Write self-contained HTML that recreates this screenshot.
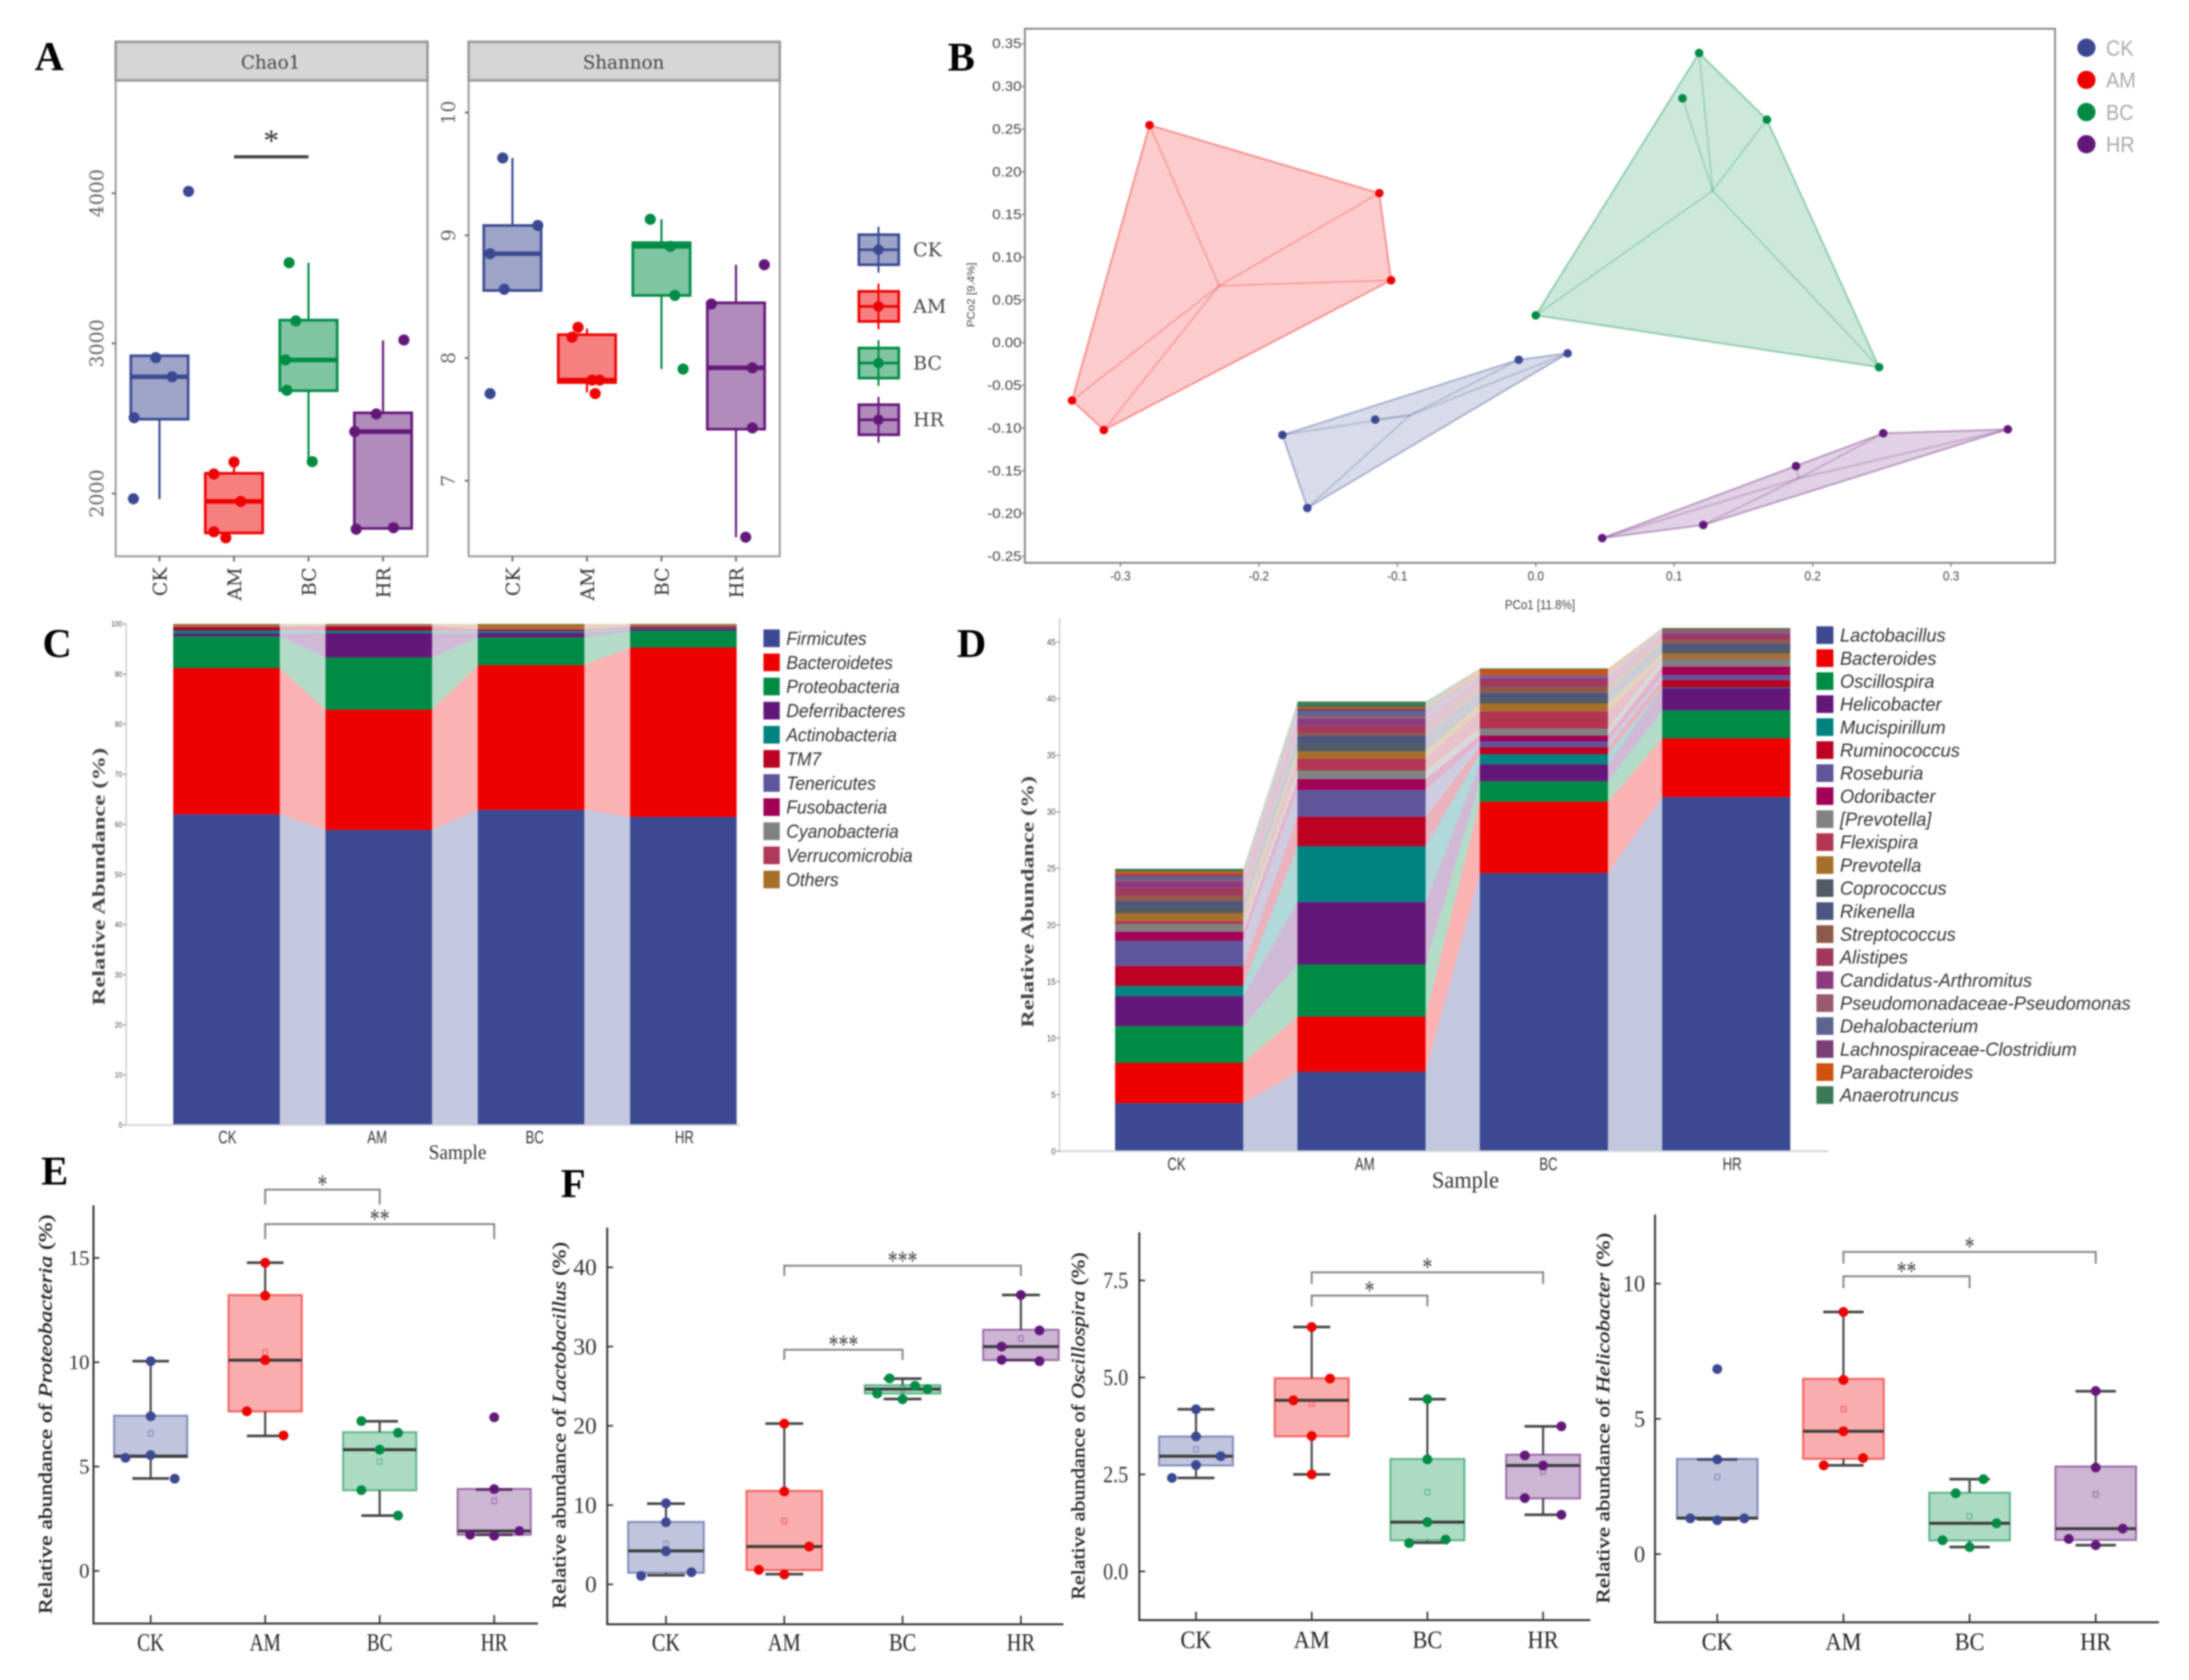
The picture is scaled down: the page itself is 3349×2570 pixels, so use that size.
<!DOCTYPE html>
<html lang="en">
<head>
<meta charset="utf-8">
<title>Gut microbiota composition figure</title>
<style>
html,body{margin:0;padding:0;background:#fff;width:3349px;height:2570px;overflow:hidden}
svg{display:block;filter:blur(1.1px)}
text{font-family:"Liberation Sans",sans-serif}
.letter{font-family:"Liberation Serif",serif;font-weight:bold;font-size:62px;fill:#000}
.ser{font-family:"Liberation Serif",serif}
.strip{font-family:"DejaVu Serif",serif;font-size:28px;fill:#444}
</style>
</head>
<body>
<svg id="figure" xmlns="http://www.w3.org/2000/svg" width="3349" height="2570" viewBox="0 0 3349 2570">
  <rect width="3349" height="2570" fill="#fff"/>

  <text class="letter" x="53" y="107">A</text>
  <text class="letter" x="1450" y="108">B</text>
  <text class="letter" x="65" y="1005">C</text>
  <text class="letter" x="1464" y="1005">D</text>
  <text class="letter" x="63" y="1812">E</text>
  <text class="letter" x="858" y="1831">F</text>

  <g>
    <rect x="177" y="64" width="477" height="59" fill="#d6d6d6" stroke="#9a9a9a" stroke-width="4"/>
    <text class="strip" x="414" y="105" text-anchor="middle">Chao1</text>
  </g>
  <g>
    <rect x="717" y="64" width="476" height="59" fill="#d6d6d6" stroke="#9a9a9a" stroke-width="4"/>
    <text class="strip" x="954" y="105" text-anchor="middle">Shannon</text>
  </g>
  <rect x="177" y="123" width="477" height="728" fill="none" stroke="#9a9a9a" stroke-width="3"/>
  <rect x="717" y="123" width="476" height="728" fill="none" stroke="#9a9a9a" stroke-width="3"/>
  <g id="chao1-chart"></g>
  <g id="shannon-chart"></g>
  <g id="alpha-legend"></g>

  <rect x="1568" y="44" width="1576" height="817" fill="none" stroke="#8a8a8a" stroke-width="3"/>
  <g id="pcoa-chart"></g>
  <text transform="translate(2356,932) scale(.88,1)" text-anchor="middle" font-size="20" fill="#444">PCo1 [11.8%]</text>
  <text transform="translate(1491,451) rotate(-90) scale(1.04,1)" text-anchor="middle" font-size="17" fill="#444">PCo2 [9.4%]</text>
  <g id="pcoa-legend"></g>

  <g id="phylum-chart"></g>
  <g id="phylum-legend"></g>
  <text class="ser" transform="translate(160,1538) rotate(-90)" font-size="27" font-weight="bold" fill="#444" textLength="394" lengthAdjust="spacingAndGlyphs">Relative Abundance (%)</text>
  <text class="ser" transform="translate(700,1773) scale(.92,1)" text-anchor="middle" font-size="32" fill="#333">Sample</text>

  <g id="genus-chart"></g>
  <g id="genus-legend"></g>
  <text class="ser" transform="translate(1581,1572) rotate(-90)" font-size="27" font-weight="bold" fill="#444" textLength="385" lengthAdjust="spacingAndGlyphs">Relative Abundance (%)</text>
  <text class="ser" transform="translate(2242,1817) scale(.95,1)" text-anchor="middle" font-size="36" fill="#333">Sample</text>

  <g id="proteo-chart"></g>
  <text class="ser" transform="translate(79,2469) rotate(-90)" font-size="29" fill="#222" stroke="#222" stroke-width=".5" textLength="611" lengthAdjust="spacingAndGlyphs">Relative abundance of <tspan font-style="italic">Proteobacteria</tspan> (%)</text>
  <g id="lacto-chart"></g>
  <text class="ser" transform="translate(865,2461) rotate(-90)" font-size="29" fill="#222" stroke="#222" stroke-width=".5" textLength="561" lengthAdjust="spacingAndGlyphs">Relative abundance of <tspan font-style="italic">Lactobacillus</tspan> (%)</text>
  <g id="oscillo-chart"></g>
  <text class="ser" transform="translate(1659,2447) rotate(-90)" font-size="29" fill="#222" stroke="#222" stroke-width=".5" textLength="531" lengthAdjust="spacingAndGlyphs">Relative abundance of <tspan font-style="italic">Oscillospira</tspan> (%)</text>
  <g id="helico-chart"></g>
  <text class="ser" transform="translate(2462,2453) rotate(-90)" font-size="29" fill="#222" stroke="#222" stroke-width=".5" textLength="567" lengthAdjust="spacingAndGlyphs">Relative abundance of <tspan font-style="italic">Helicobacter</tspan> (%)</text>
</svg>

<script>
// ---------- shared categories ----------
const groups = ['CK','AM','BC','HR'];

// ---------- panel A: Chao1 ----------
const chao1Ticks = [2000,3000,4000];
const chao1Q1 = [2495,1737.5,2685,1767.5];
const chao1Q3 = [2917.5,2135,3155,2537.5];
const chao1Median = [2777.5,1947.5,2890,2412.5];
const chao1WhiskerLow = [1962.5,1737.5,2212.5,1767.5];
const chao1WhiskerHigh = [2917.5,2210,3537.5,3020];
const chao1Points = [[2905,2777.5,2505,1965,4012.5],[2210,2130,1947.5,1745,1705],[3537.5,3150,2890,2687.5,2212.5],[3022.5,2530,2412.5,1762.5,1772.5]];
const chao1Jitter = [[-.05,.17,-.34,-.35,.39],[0,-.27,.09,-.27,-.11],[-.26,-.17,-.31,-.29,.05],[.28,-.09,-.38,-.36,.14]];
const chao1Brackets = [{from:1,to:2,top:4242.5,leg:4242.5,stars:'*'}];

// ---------- panel A: Shannon ----------
const shannonTicks = [7,8,9,10];
const shannonQ1 = [8.55,7.80,8.51,7.42];
const shannonQ3 = [9.08,8.19,8.94,8.45];
const shannonMedian = [8.85,7.82,8.91,7.92];
const shannonWhiskerLow = [8.55,7.72,7.91,6.54];
const shannonWhiskerHigh = [9.63,8.24,9.13,8.76];
const shannonPoints = [[9.63,9.08,8.85,8.56,7.71],[8.25,8.17,7.82,7.82,7.71],[9.13,8.91,8.51,7.91],[8.76,8.44,7.92,7.43,6.54]];
const shannonJitter = [[-.13,.34,-.3,-.11,-.3],[-.12,-.2,.17,.07,.11],[-.15,.12,.18,.29],[.38,-.33,.22,.22,.13]];

// ---------- panel B: PCoA ----------
const pcoaXTicks = [-0.3,-0.2,-0.1,0,0.1,0.2,0.3];
const pcoaYTicks = [-0.25,-0.20,-0.15,-0.10,-0.05,0,0.05,0.10,0.15,0.20,0.25,0.30,0.35];
const pcoaCK = [[.023,-.0125],[-.0123,-.02],[-.116,-.09],[-.183,-.108],[-.165,-.1935]];
const pcoaAM = [[-.279,.2546],[-.113,.175],[-.1045,.073],[-.335,-.0676],[-.312,-.1023]];
const pcoaBC = [[.118,.339],[.106,.286],[.167,.261],[0,.032],[.248,-.0287]];
const pcoaHR = [[.341,-.1014],[.251,-.106],[.188,-.1444],[.121,-.2134],[.048,-.2287]];

// ---------- panel C: phyla ----------
const phylumNames = ['Firmicutes','Bacteroidetes','Proteobacteria','Deferribacteres','Actinobacteria','TM7','Tenericutes','Fusobacteria','Cyanobacteria','Verrucomicrobia','Others'];
const phylumTicks = [0,10,20,30,40,50,60,70,80,90,100];
const phylumCK = [62.0,29.2,6.3,0.6,0.6,0.7,0.05,0.05,0.05,0.05,0.4];
const phylumAM = [58.9,24.0,10.4,4.9,0.5,0.8,0.05,0.05,0.05,0.05,0.3];
const phylumBC = [62.9,28.9,5.5,0.9,0.4,0.3,0.05,0.05,0.05,0.05,0.9];
const phylumHR = [61.5,33.8,3.3,0.3,0.2,0.3,0.1,0.05,0.05,0.05,0.35];

// ---------- panel D: genera ----------
const genusNames = ['Lactobacillus','Bacteroides','Oscillospira','Helicobacter','Mucispirillum','Ruminococcus','Roseburia','Odoribacter','[Prevotella]','Flexispira','Prevotella','Coprococcus','Rikenella','Streptococcus','Alistipes','Candidatus-Arthromitus','Pseudomonadaceae-Pseudomonas','Dehalobacterium','Lachnospiraceae-Clostridium','Parabacteroides','Anaerotruncus'];
const genusTicks = [0,5,10,15,20,25,30,35,40,45];
const genusCK = [4.24,3.56,3.25,2.65,0.90,1.76,2.24,0.80,0.68,0.27,0.68,0.56,0.48,0.50,0.70,0.57,0.14,0.27,0.20,0.27,0.24];
const genusAM = [7.02,4.88,4.60,5.53,4.92,2.61,2.37,0.95,0.78,1.05,0.61,0.71,0.68,0.24,0.68,0.61,0.20,0.45,0.20,0.15,0.50];
const genusBC = [24.58,6.32,1.79,1.51,0.88,0.64,0.51,0.51,0.61,1.53,0.70,0.44,0.47,0.54,0.54,0.24,0.17,0.10,0.05,0.45,0.09];
const genusHR = [31.3,5.19,2.47,1.97,0.07,0.64,0.44,0.75,0.68,0.05,0.43,0.47,0.40,0.30,0.40,0.20,0.14,0.10,0.07,0.07,0.10];

// ---------- panel E: Proteobacteria ----------
const proteoTicks = [0,5,10,15];
const proteoQ1 = [5.45,7.64,3.86,1.73];
const proteoQ3 = [7.44,13.22,6.65,3.93];
const proteoMedian = [5.50,10.10,5.81,1.91];
const proteoMean = [6.59,10.47,5.23,3.35];
const proteoWhiskerLow = [4.43,6.47,2.65,1.73];
const proteoWhiskerHigh = [10.05,14.77,7.17,3.90];
const proteoPoints = [[10.05,7.41,5.55,5.42,4.42],[14.77,13.19,10.10,7.65,6.49],[7.18,6.62,5.81,3.87,2.65],[7.36,3.92,1.91,1.73,1.68]];
const proteoJitter = [[0,0,0,-.22,.21],[0,0,0,-.16,.16],[-.16,.16,0,-.16,.16],[0,0,.22,-.21,0]];
const proteoBrackets = [{from:1,to:2,top:18.27,leg:17.56,stars:'*'},{from:1,to:3,top:16.62,leg:15.9,stars:'**'}];

// ---------- panel F: Lactobacillus ----------
const lactoTicks = [0,10,20,30,40];
const lactoQ1 = [1.45,1.79,24.07,28.29];
const lactoQ3 = [7.88,11.80,25.14,32.13];
const lactoMedian = [4.22,4.77,24.63,30.0];
const lactoMean = [5.11,8.01,24.63,31.02];
const lactoWhiskerLow = [1.15,1.28,23.39,28.29];
const lactoWhiskerHigh = [10.18,20.28,25.95,36.51];
const lactoPoints = [[10.23,7.84,4.18,1.53,1.07],[20.28,11.72,4.77,1.83,1.24],[25.99,25.05,24.63,24.07,23.35],[36.51,32.04,30.0,28.33,28.16]];
const lactoJitter = [[0,0,0,.215,-.21],[0,0,.21,-.215,0],[-.11,.105,.21,-.215,0],[0,.157,-.163,-.163,.157]];
const lactoBrackets = [{from:1,to:3,top:40.2,leg:38.9,stars:'***'},{from:1,to:2,top:29.6,leg:28.33,stars:'***'}];

// ---------- panel F: Oscillospira ----------
const oscilloTicks = [0,2.5,5,7.5];
const oscilloQ1 = [2.73,3.48,0.80,1.88];
const oscilloQ3 = [3.48,4.98,2.90,3.01];
const oscilloMedian = [2.97,4.41,1.27,2.73];
const oscilloMean = [3.15,4.33,2.04,2.57];
const oscilloWhiskerLow = [2.41,2.50,0.74,1.46];
const oscilloWhiskerHigh = [4.18,6.30,4.44,3.74];
const oscilloPoints = [[4.18,3.48,2.97,2.74,2.41],[6.30,4.97,4.41,3.49,2.50],[4.44,2.89,1.27,0.82,0.73],[3.74,2.99,2.73,1.89,1.46]];
const oscilloJitter = [[0,0,.214,0,-.208],[0,.158,-.158,0,0],[0,0,0,.158,-.158],[.158,-.158,0,-.158,.158]];
const oscilloBrackets = [{from:1,to:3,top:7.71,leg:7.41,stars:'*'},{from:1,to:2,top:7.11,leg:6.83,stars:'*'}];

// ---------- panel F: Helicobacter ----------
const helicoTicks = [0,5,10];
const helicoQ1 = [1.31,3.52,0.50,0.52];
const helicoQ3 = [3.52,6.48,2.27,3.24];
const helicoMedian = [1.33,4.54,1.14,0.94];
const helicoMean = [2.85,5.36,1.39,2.22];
const helicoWhiskerLow = [1.28,3.28,0.26,0.33];
const helicoWhiskerHigh = [3.50,8.95,2.77,6.02];
const helicoPoints = [[6.84,3.50,1.32,1.32,1.25],[8.95,6.44,4.54,3.55,3.28],[2.77,2.25,1.14,0.51,0.26],[6.03,3.20,0.94,0.56,0.33]];
const helicoJitter = [[0,0,-.214,.214,0],[0,0,0,.156,-.156],[.11,-.11,.214,-.214,0],[0,0,.214,-.214,0]];
const helicoBrackets = [{from:1,to:3,top:11.17,leg:10.74,stars:'*'},{from:1,to:2,top:10.27,leg:9.83,stars:'**'}];

// ---------- styling (not data) ----------
const groupColors = ['#3B4992','#EE0000','#008B45','#631879'];
const phylumColors = ['#3B4992','#EE0000','#008B45','#631879','#008280','#BB0021','#5F559B','#A20056','#808180','#B0395A','#A6702B'];
const genusColors = ['#3B4992','#EE0000','#008B45','#631879','#008280','#BB0021','#5F559B','#A20056','#808180','#B23650','#A6702B','#525A66','#4B5580','#8C5A4A','#A03A5C','#8C3A80','#995A70','#5C6590','#7B3F75','#CF5210','#3A7A55'];

const NS = 'http://www.w3.org/2000/svg';
function mk(parent, tag, attrs, content) {
  const el = document.createElementNS(NS, tag);
  for (const k in attrs) el.setAttribute(k, attrs[k]);
  if (content !== undefined) el.textContent = content;
  parent.appendChild(el);
  return el;
}
function T(parent, str, x, y, o) {
  o = o || {};
  const tr = 'translate(' + x + ',' + y + ')' + (o.rot ? ' rotate(' + o.rot + ')' : '') + (o.sx ? ' scale(' + o.sx + ',1)' : '');
  const a = {transform: tr, 'font-size': o.size || 20, fill: o.fill || '#333', 'text-anchor': o.anchor || 'start'};
  if (o.weight) a['font-weight'] = o.weight;
  if (o.italic) a['font-style'] = 'italic';
  const el = mk(parent, 'text', a, str);
  el.style.fontFamily = o.family || '"Liberation Sans",sans-serif';
  return el;
}
function scale(v0, p0, v1, p1) { return v => p0 + (v - v0) * (p1 - p0) / (v1 - v0); }
const SERIF = '"Liberation Serif",serif';
const DJ = '"DejaVu Serif",serif';

// ---------- boxplot drawing ----------
function drawBoxes(id, c, d) {
  const g = document.getElementById(id);
  const y = scale(c.ya[0], c.ya[1], c.yb[0], c.yb[1]);
  const x = i => c.x0 + i * c.dx;
  const hw = c.hw * c.dx, cap = .16 * c.dx;
  groups.forEach((name, i) => {
    const col = groupColors[i];
    const whiskCol = c.facet ? col : '#444';
    const wl = mk(g, 'line', {x1:x(i), x2:x(i), y1:y(d.q1[i]), y2:y(d.wl[i]), stroke:whiskCol, 'stroke-width':3.2});
    
    
    const wh = mk(g, 'line', {x1:x(i), x2:x(i), y1:y(d.q3[i]), y2:y(d.wh[i]), stroke:whiskCol, 'stroke-width':3.2});
    
    
    if (!c.facet) {
      [d.wl[i], d.wh[i]].forEach(v => {
        const cp = mk(g, 'line', {x1:x(i)-cap, x2:x(i)+cap, y1:y(v), y2:y(v), stroke:'#444', 'stroke-width':4});
        
        
      });
    }
    const box = mk(g, 'rect', {x:x(i)-hw, width:2*hw, y:y(d.q3[i]), height:y(d.q1[i])-y(d.q3[i]), fill:col, 'fill-opacity':c.facet ? .5 : .32, stroke:col, 'stroke-opacity':c.facet ? 1 : .55, 'stroke-width':c.facet ? 4 : 3});
    
    
    const med = mk(g, 'line', {x1:x(i)-hw, x2:x(i)+hw, y1:y(d.med[i]), y2:y(d.med[i]), stroke:c.facet ? col : '#3a3a3a', 'stroke-width':c.facet ? 7 : 4.5});
    
    
    if (d.mean) {
      const m = mk(g, 'rect', {x:x(i)-3.5, y:y(d.mean[i])-4, width:7, height:8, fill:'none', stroke:col, 'stroke-opacity':.5, 'stroke-width':1.5});
      
      
    }
    d.pts[i].forEach((v, k) => {
      const p = mk(g, 'circle', {cx:x(i)+d.jit[i][k]*c.dx, cy:y(v), r:c.r, fill:col});
      
      
    });
  });
  // axes and ticks
  if (!c.facet) {
    const ax = mk(g, 'path', {d:'M' + c.left + ' ' + c.top + ' V' + c.bottom + ' H' + c.right, fill:'none', stroke:'#333', 'stroke-width':3});
    
    
  }
  d.ticks.forEach(v => {
    const t = c.facet
      ? mk(g, 'line', {x1:c.left-6, x2:c.left, y1:y(v), y2:y(v), stroke:'#777', 'stroke-width':3})
      : mk(g, 'line', {x1:c.left, x2:c.left+9, y1:y(v), y2:y(v), stroke:'#333', 'stroke-width':2.5});
    
    
    const label = c.dec ? v.toFixed(c.dec) : String(v);
    const l = c.facet
      ? T(g, label, c.tickX, y(v), {rot:-90, anchor:'middle', size:29, family:DJ, fill:'#666'})
      : T(g, label, c.tickX, y(v)+c.tickSize*.33, {anchor:'end', size:c.tickSize, sx:c.tickSx, family:SERIF, fill:'#333'});
    
    
  });
  groups.forEach((name, i) => {
    const t = c.facet
      ? mk(g, 'line', {x1:x(i), x2:x(i), y1:c.bottom, y2:c.bottom+8, stroke:'#777', 'stroke-width':3})
      : mk(g, 'line', {x1:x(i), x2:x(i), y1:c.bottom-13, y2:c.bottom, stroke:'#333', 'stroke-width':2.5});
    
    
    const l = c.facet
      ? T(g, name, x(i)+11, 868, {rot:-90, anchor:'end', size:29, family:DJ, fill:'#333'})
      : T(g, name, x(i), c.catY, {anchor:'middle', size:38, sx:c.catSx, family:SERIF, fill:'#222'});
    
    
  });
  // significance brackets
  (d.brackets || []).forEach(b => {
    const x1 = x(b.from), x2 = x(b.to), yt = y(b.top), yl = y(b.leg);
    const br = mk(g, 'path', {d:'M'+x1+' '+yl+' V'+yt+' H'+x2+' V'+yl, fill:'none', stroke:c.facet ? '#444' : '#888', 'stroke-width':c.facet ? 5 : 3});
    
    
    const s = c.facet
      ? T(g, b.stars, (x1+x2)/2, yt-9, {anchor:'middle', size:48, family:SERIF, fill:'#333'})
      : T(g, b.stars, (x1+x2)/2, yt+6, {anchor:'middle', size:42, sx:.72, family:SERIF, fill:'#444'});
    
    
  });
}

drawBoxes('chao1-chart', {facet:true, ya:[2000,755], yb:[4000,295.6], x0:244, dx:114, hw:.385, r:8.5, left:177, bottom:851, tickX:158},
  {ticks:chao1Ticks, q1:chao1Q1, q3:chao1Q3, med:chao1Median, wl:chao1WhiskerLow, wh:chao1WhiskerHigh, pts:chao1Points, jit:chao1Jitter, brackets:chao1Brackets});
drawBoxes('shannon-chart', {facet:true, ya:[7,735.4], yb:[10,172.2], x0:784, dx:114, hw:.385, r:8.5, left:717, bottom:851, tickX:696},
  {ticks:shannonTicks, q1:shannonQ1, q3:shannonQ3, med:shannonMedian, wl:shannonWhiskerLow, wh:shannonWhiskerHigh, pts:shannonPoints, jit:shannonJitter});
drawBoxes('proteo-chart', {ya:[0,2403.1], yb:[15,1924.3], x0:230.5, dx:175.2, hw:.32, r:7.5, left:143, top:1844, bottom:2483.6, right:823, tickX:137, tickSize:32, tickSx:1, catY:2525, catSx:.78},
  {ticks:proteoTicks, q1:proteoQ1, q3:proteoQ3, med:proteoMedian, mean:proteoMean, wl:proteoWhiskerLow, wh:proteoWhiskerHigh, pts:proteoPoints, jit:proteoJitter, brackets:proteoBrackets});
drawBoxes('lacto-chart', {ya:[0,2423.7], yb:[40,1938.7], x0:1018.9, dx:181, hw:.32, r:7.5, left:929, top:1878, bottom:2484.7, right:1627, tickX:913, tickSize:36, tickSx:1, catY:2525, catSx:.82},
  {ticks:lactoTicks, q1:lactoQ1, q3:lactoQ3, med:lactoMedian, mean:lactoMean, wl:lactoWhiskerLow, wh:lactoWhiskerHigh, pts:lactoPoints, jit:lactoJitter, brackets:lactoBrackets});
drawBoxes('oscillo-chart', {ya:[0,2403.9], yb:[7.5,1958.8], x0:1829.8, dx:177, hw:.32, r:7.5, left:1743, top:1885, bottom:2478.4, right:2433, tickX:1726, tickSize:36, tickSx:.85, dec:1, catY:2521, catSx:.9},
  {ticks:oscilloTicks, q1:oscilloQ1, q3:oscilloQ3, med:oscilloMedian, mean:oscilloMean, wl:oscilloWhiskerLow, wh:oscilloWhiskerHigh, pts:oscilloPoints, jit:oscilloJitter, brackets:oscilloBrackets});
drawBoxes('helico-chart', {ya:[0,2377.4], yb:[10,1963.6], x0:2627.3, dx:193, hw:.32, r:7.5, left:2532, top:1858, bottom:2481.7, right:3303, tickX:2517, tickSize:36, tickSx:.95, catY:2524, catSx:.9},
  {ticks:helicoTicks, q1:helicoQ1, q3:helicoQ3, med:helicoMedian, mean:helicoMean, wl:helicoWhiskerLow, wh:helicoWhiskerHigh, pts:helicoPoints, jit:helicoJitter, brackets:helicoBrackets});

// ---------- legend panel A ----------
(function () {
  const g = document.getElementById('alpha-legend');
  groups.forEach((name, i) => {
    const cy = 382 + i * 86.7;
    const w = mk(g, 'line', {x1:1344, x2:1344, y1:cy-35, y2:cy+35, stroke:groupColors[i], 'stroke-width':3});
    
    
    const b = mk(g, 'rect', {x:1314, y:cy-23, width:61, height:46, fill:groupColors[i], 'fill-opacity':.5, stroke:groupColors[i], 'stroke-width':4});
    
    
    const m = mk(g, 'line', {x1:1314, x2:1375, y1:cy, y2:cy, stroke:groupColors[i], 'stroke-width':4});
    
    
    const d = mk(g, 'circle', {cx:1344, cy:cy, r:8, fill:groupColors[i]});
    
    
    const t = T(g, name, 1397, cy+10, {size:29, family:DJ, fill:'#444'});
    
    
  });
})();

// ---------- panel B ----------
(function () {
  const g = document.getElementById('pcoa-chart');
  const x = scale(0, 2349.6, .3, 2985);
  const y = scale(0, 524.2, .35, 66.7);
  function hull(pts) {
    const p = pts.slice().sort((a, b) => a[0] - b[0] || a[1] - b[1]);
    const cross = (o, a, b) => (a[0]-o[0])*(b[1]-o[1]) - (a[1]-o[1])*(b[0]-o[0]);
    const lo = [], up = [];
    p.forEach(q => { while (lo.length > 1 && cross(lo[lo.length-2], lo[lo.length-1], q) <= 0) lo.pop(); lo.push(q); });
    p.slice().reverse().forEach(q => { while (up.length > 1 && cross(up[up.length-2], up[up.length-1], q) <= 0) up.pop(); up.push(q); });
    return lo.slice(0, -1).concat(up.slice(0, -1));
  }
  [pcoaCK, pcoaAM, pcoaBC, pcoaHR].forEach((pts, i) => {
    const col = groupColors[i], name = groups[i];
    const poly = mk(g, 'polygon', {points:hull(pts).map(p => x(p[0]) + ',' + y(p[1])).join(' '), fill:col, 'fill-opacity':.2, stroke:col, 'stroke-opacity':.35, 'stroke-width':3});
    
    
    const mx = pts.reduce((s, p) => s + p[0], 0) / pts.length;
    const my = pts.reduce((s, p) => s + p[1], 0) / pts.length;
    pts.forEach(p => {
      const l = mk(g, 'line', {x1:x(mx), y1:y(my), x2:x(p[0]), y2:y(p[1]), stroke:col, 'stroke-opacity':.2, 'stroke-width':3});
      
      
    });
    pts.forEach(p => {
      const c = mk(g, 'circle', {cx:x(p[0]), cy:y(p[1]), r:6.5, fill:col});
      
      
    });
  });
  pcoaXTicks.forEach(v => {
    const t = mk(g, 'line', {x1:x(v), x2:x(v), y1:861, y2:867, stroke:'#888', 'stroke-width':2});
    
    
    const l = T(g, v.toFixed(1), x(v), 888, {anchor:'middle', size:20, sx:.9, fill:'#444'});
    
    
  });
  pcoaYTicks.forEach(v => {
    const t = mk(g, 'line', {x1:1563, x2:1568, y1:y(v), y2:y(v), stroke:'#888', 'stroke-width':2});
    
    
    const l = T(g, v.toFixed(2), 1563, y(v)+7, {anchor:'end', size:21, sx:1.1, fill:'#444'});
    
    
  });
  const lg = document.getElementById('pcoa-legend');
  groups.forEach((name, i) => {
    const cy = 73 + i * 49.2;
    const d = mk(lg, 'circle', {cx:3192, cy:cy, r:14, fill:groupColors[i]});
    
    
    const t = T(lg, name, 3222, cy+12, {size:33, sx:.92, fill:'#aaa'});
    
    
  });
})();

// ---------- stacked bars C and D ----------
function drawStack(id, c, series, colors, names, ticks) {
  const g = document.getElementById(id);
  const y = scale(0, c.y0, c.vTop, c.yTop);
  const left = i => c.x0 + i * c.step;
  const tops = series.map(s => { let t = 0; return s.map(v => (t += v)); });
  // ribbons between neighbouring bars
  for (let b = 0; b < series.length - 1; b++) {
    names.forEach((nm, k) => {
      const lo1 = k ? tops[b][k-1] : 0, hi1 = tops[b][k];
      const lo2 = k ? tops[b+1][k-1] : 0, hi2 = tops[b+1][k];
      const xa = left(b) + c.w, xb = left(b+1);
      const r = mk(g, 'polygon', {points:[xa,y(lo1),xa,y(hi1),xb,y(hi2),xb,y(lo2)].join(' '), fill:colors[k], 'fill-opacity':.3});
      
      
    });
  }
  series.forEach((s, b) => {
    s.forEach((v, k) => {
      const lo = k ? tops[b][k-1] : 0, hi = tops[b][k];
      const r = mk(g, 'rect', {x:left(b), width:c.w, y:y(hi), height:y(lo)-y(hi), fill:colors[k]});
      
      
    });
  });
  const ax = mk(g, 'path', {d:'M'+c.axisX+' '+c.axisTop+' V'+c.y0+' H'+c.axisEnd, fill:'none', stroke:'#cfd2dc', 'stroke-width':2.5});
  
  
  ticks.forEach(v => {
    const t = mk(g, 'line', {x1:c.axisX-5, x2:c.axisX, y1:y(v), y2:y(v), stroke:'#888', 'stroke-width':1.5});
    
    
    const l = T(g, String(v), c.axisX-6, y(v)+c.tickSize*.35, {anchor:'end', size:c.tickSize, sx:.85, fill:'#444'});
    
    
  });
  groups.forEach((name, i) => {
    const l = T(g, name, c.catX[i], c.catY, {anchor:'middle', size:c.catSize, sx:.72, fill:'#333'});
    
    
  });
}
drawStack('phylum-chart', {y0:1721, vTop:100, yTop:954.5, x0:265, step:233, w:163, axisX:193, axisTop:954.5, axisEnd:1132, tickSize:12, catX:[348,577,818,1047], catY:1749, catSize:28},
  [phylumCK, phylumAM, phylumBC, phylumHR], phylumColors, phylumNames, phylumTicks);
drawStack('genus-chart', {y0:1761, vTop:45, yTop:982.2, x0:1706, step:279, w:196, axisX:1621, axisTop:945, axisEnd:2797, tickSize:14, catX:[1800,2088,2369,2650], catY:1790, catSize:28},
  [genusCK, genusAM, genusBC, genusHR], genusColors, genusNames, genusTicks);

function drawLegend(id, names, colors, x, y0, dy, sw, tx, sx) {
  const g = document.getElementById(id);
  names.forEach((nm, i) => {
    const cy = y0 + i * dy;
    const r = mk(g, 'rect', {x:x, y:cy-13.5, width:sw, height:27, fill:colors[i]});
    
    
    const t = T(g, nm, tx, cy+10, {size:29, sx:sx, italic:true, fill:'#333'});
    
    
  });
}
drawLegend('phylum-legend', phylumNames, phylumColors, 1168, 976.4, 36.9, 25, 1203, .92);
drawLegend('genus-legend', genusNames, genusColors, 2779, 971.6, 35.18, 26, 2815, .965);
</script>
</body>
</html>
